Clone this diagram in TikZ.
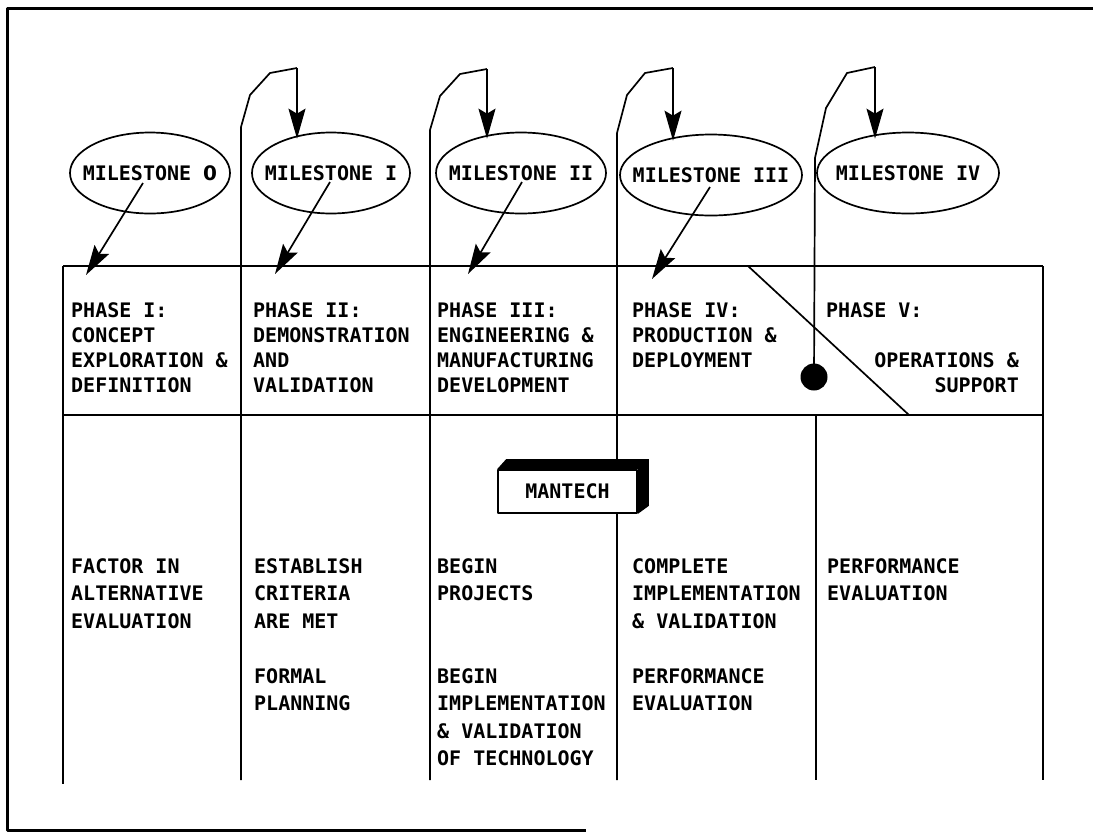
\documentclass[tikz,border=0pt]{standalone}
\usepackage{fontspec}
\newfontfamily\plotfont{DejaVu Sans Mono}
\newfontfamily\plainfont{DejaVu Sans}
\usetikzlibrary{arrows.meta,shapes.geometric,calc}
\begin{document}
\begin{tikzpicture}[x=1pt,y=-1pt,line join=round,
  ln/.style={line width=1.7pt},
  frame/.style={line width=3pt},
  arr/.style={line width=1.7pt,-{Stealth[length=30pt,width=17pt,inset=5pt]}},
  ms/.style={ellipse,draw,line width=1.7pt,minimum height=81pt,inner sep=0pt,minimum width=#1,font=\plotfont\bfseries\fontsize{20}{24}\selectfont},
  hd/.style={anchor=north west,inner sep=0pt,align=left,font=\plotfont\bfseries\fontsize{20}{25.3}\selectfont},
  hdr/.style={anchor=north east,inner sep=0pt,align=right,font=\plotfont\bfseries\fontsize{20}{25.3}\selectfont},
  bd/.style={anchor=north west,inner sep=0pt,align=left,font=\plotfont\bfseries\fontsize{20}{27.5}\selectfont},
]
\useasboundingbox (0,0) rectangle (1093,831);
\fill[white] (0,0) rectangle (1093,831);

% outer frame (partial)
\draw[frame] (1093,8) -- (7,8) -- (7,830) -- (586,830);

% milestones
\node[ms=160pt] (E0) at (150,173) {\makebox[0pt]{MILESTONE {\plainfont\bfseries 0}}};
\node[ms=158pt] (E1) at (331,173) {\makebox[0pt]{MILESTONE I}};
\node[ms=170pt] (E2) at (521,173) {\makebox[0pt]{MILESTONE II}};
\node[ms=182pt] (E3) at (711,175) {\makebox[0pt]{MILESTONE III}};
\node[ms=182pt] (E4) at (908,173) {\makebox[0pt]{MILESTONE IV}};

% table frame
\draw[ln] (63,266) -- (1043,266);
\draw[ln] (63,415) -- (1043,415);
\draw[ln] (63,266) -- (63,784);
\draw[ln] (1043,266) -- (1043,780);
\draw[ln] (816,415) -- (816,780);

% diagonal in phase V cell
\draw[ln] (748,266) -- (909,415);

% feedback loops (column lines rising to the next milestone)
\coordinate (L1t) at (297,68);
\coordinate (L2t) at (487,69);
\coordinate (L3t) at (673,68);
\coordinate (L4t) at (875,67);
\node[circle,fill,inner sep=0pt,minimum size=27pt] (D) at (814,377) {};
\draw[ln] (241,780) -- (241,127) -- (250,95) -- (270,73) -- (L1t);
\draw[ln] (430,780) -- (430,130) -- (440,96) -- (460,74) -- (L2t);
\draw[ln] (617,780) -- (617,133) -- (627,95) -- (645,73) -- (L3t);
\draw[ln] (D.center) -- (815,158) -- (826,108) -- (847,73) -- (L4t);
\draw[arr] (L1t) -- ($(L1t |- E1.north)+(0,7)$);
\draw[arr] (L2t) -- ($(L2t |- E2.north)+(0,7)$);
\draw[arr] (L3t) -- ($(L3t |- E3.north)+(0,7)$);
\draw[arr] (L4t) -- ($(L4t |- E4.north)+(0,7)$);

% milestone -> phase arrows
\coordinate (T0) at (86,275);
\coordinate (T1) at (275,274);
\coordinate (T2) at (468,274);
\coordinate (T3) at (652,279);
\draw[arr] ($(E0.center)+(-7,10)$) -- (T0);
\draw[arr] ($(E1.center)+(-1,9)$) -- (T1);
\draw[arr] ($(E2.center)+(1,9)$) -- (T2);
\draw[arr] ($(E3.center)+(-1,12)$) -- (T3);

% phase headings
\node[hd] (h1) at (71,302) {PHASE I:\\CONCEPT\\EXPLORATION \&\\DEFINITION};
\node[hd] (h2) at (253,302) {PHASE II:\\DEMONSTRATION\\AND\\VALIDATION};
\node[hd] (h3) at (437,302) {PHASE III:\\ENGINEERING \&\\MANUFACTURING\\DEVELOPMENT};
\node[hd] (h4) at (632,302) {PHASE IV:\\PRODUCTION \&\\DEPLOYMENT};
\node[hd] (h5) at (826,302) {PHASE V:};
\node[hdr] (h5b) at (1019,352.6) {OPERATIONS \&\\SUPPORT};

% MANTECH box
\node[draw,ln,fill=white,minimum width=139pt,minimum height=43pt,inner sep=0pt,
      font=\plotfont\bfseries\fontsize{20}{24}\selectfont] (MT) at (567.5,491.5) {MANTECH};
\fill (MT.north west) -- ++(9,-10) -- ($(MT.north east)+(11,-10)$) -- ($(MT.south east)+(11,-8)$)
      -- (MT.south east) -- (MT.north east) -- cycle;

% activities
\node[bd] (b1) at (71,558) {FACTOR IN\\ALTERNATIVE\\EVALUATION};
\node[bd] (b2) at (254,558) {ESTABLISH\\CRITERIA\\ARE MET};
\node[bd] (b2b) at (254,668) {FORMAL\\PLANNING};
\node[bd] (b3) at (437,558) {BEGIN\\PROJECTS};
\node[bd] (b3b) at (437,668) {BEGIN\\IMPLEMENTATION\\\& VALIDATION\\OF TECHNOLOGY};
\node[bd] (b4) at (632,558) {COMPLETE\\IMPLEMENTATION\\\& VALIDATION};
\node[bd] (b4b) at (632,668) {PERFORMANCE\\EVALUATION};
\node[bd] (b5) at (827,558) {PERFORMANCE\\EVALUATION};
\end{tikzpicture}
\end{document}
